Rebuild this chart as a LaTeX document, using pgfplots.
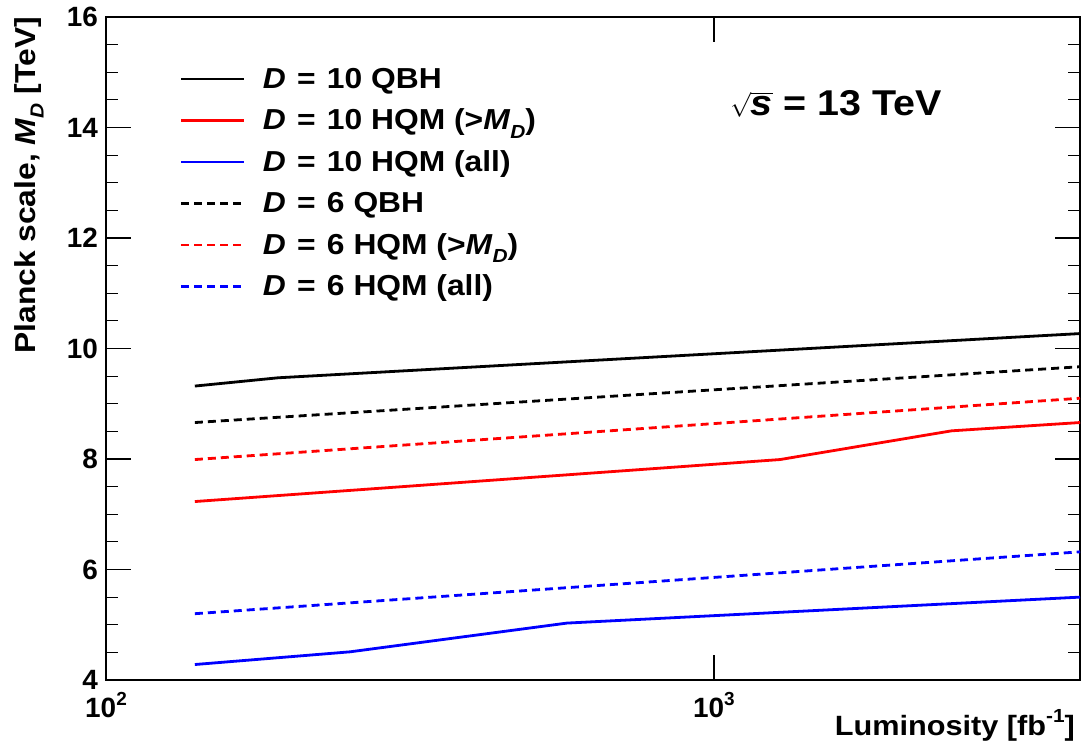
\documentclass[border=0pt]{standalone}
\usepackage{fontspec}
\setmainfont{Liberation Sans}[FakeStretch=1.1]
\newfontfamily\tickfont{Liberation Sans}
\usepackage{pgfplots}
\pgfplotsset{compat=1.18}
\newcommand{\fs}[1]{\fontsize{#1}{#1}\selectfont}
\newcommand{\MD}{\textit{M}\raisebox{-0.3em}{\fs{19}\textit{D}}}
\newcommand{\eq}{\hspace{2.5bp} = \hspace{2.5bp}}
\begin{document}
\begin{tikzpicture}
\begin{axis}[
  xmode=log, log basis x=10,
  scale only axis, width=974bp, height=663bp,
  xmin=100, xmax=4000, ymin=4, ymax=16,
  xtick={100,1000},
  xticklabels={10\raisebox{0.45em}{\fs{19}2}, 10\raisebox{0.45em}{\fs{19}3}},
  ytick={4,6,...,16}, minor y tick num=3,
  /pgf/number format/assume math mode=true,
  tick label style={font=\tickfont\bfseries\fs{28}},
  yticklabel style={inner sep=0pt, xshift=-8bp},
  xticklabel style={inner sep=0pt, yshift=-12bp},
  axis line style={line width=1.6bp},
  every tick/.style={black, line width=1.2bp},
  major tick length=25bp, minor tick length=12.5bp,
  xlabel={Luminosity [fb\raisebox{0.45em}{\fs{19}-1}]},
  ylabel={Planck scale, \MD{} [TeV]},
  every axis x label/.style={at={(axis description cs:0.9949,-0.083)}, anchor=base east, font=\bfseries\fs{28}, inner sep=0pt},
  every axis y label/.style={at={(axis description cs:-0.0729,1)}, rotate=90, anchor=base east, font=\bfseries\fs{29}, inner sep=0pt},
  legend style={at={(axis description cs:0.076,0.929)}, anchor=north west, draw=none, fill=none,
    inner sep=0pt, outer sep=0pt, font=\bfseries\fs{29}, row sep=11.5bp, column sep=17bp,
    nodes={inner sep=0pt, text height=24bp, text depth=6bp}},
  legend cell align=left,
  legend image code/.code={\draw[#1] (0bp,0bp) -- (63bp,0bp);},
  legend image post style={line width=2.8bp},
]
\coordinate (sw) at (rel axis cs:0,0);
\coordinate (ne) at (rel axis cs:1,1);

\addplot[black, line width=2.8bp] coordinates {(140,9.32) (192,9.47) (4000,10.27)};
\addlegendentry{\textit{D}\eq10 QBH}
\addplot[red, line width=2.8bp] coordinates {(140,7.23) (1284,7.99) (2460,8.51) (4000,8.66)};
\addlegendentry{\textit{D}\eq10 HQM (>\MD)}
\addplot[blue, line width=2.8bp] coordinates {(140,4.28) (252,4.51) (573,5.03) (4000,5.50)};
\addlegendentry{\textit{D}\eq10 HQM (all)}
\addplot[black, line width=2.8bp, dash pattern=on 8bp off 5bp] coordinates {(140,8.66) (4000,9.67)};
\addlegendentry{\textit{D}\eq6 QBH}
\addplot[red, line width=2.8bp, dash pattern=on 8bp off 5bp] coordinates {(140,7.99) (4000,9.10)};
\addlegendentry{\textit{D}\eq6 HQM (>\MD)}
\addplot[blue, line width=2.8bp, dash pattern=on 8bp off 5bp] coordinates {(140,5.20) (4000,6.32)};
\addlegendentry{\textit{D}\eq6 HQM (all)}

\node[anchor=base west, inner sep=0pt, font=\bfseries\fs{36}] at (axis description cs:0.6407,0.852)
  {$\sqrt{\mbox{\bfseries\itshape\fs{36}s}}$ = 13 TeV};
\end{axis}
\pgfresetboundingbox
\path[use as bounding box] ([shift={(-106bp,-69bp)}]sw) rectangle ([shift={(4bp,17bp)}]ne);
\end{tikzpicture}
\end{document}
